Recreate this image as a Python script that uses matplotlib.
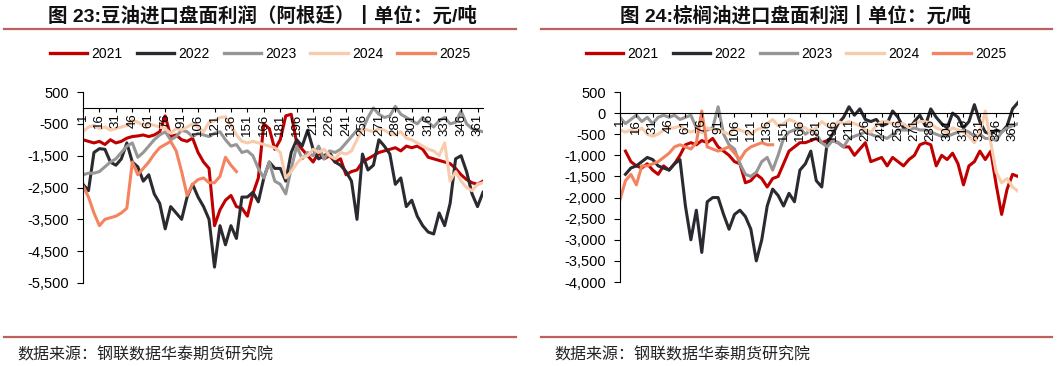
import numpy as np
import matplotlib
matplotlib.use("Agg")
import matplotlib.pyplot as plt
from matplotlib.lines import Line2D
from matplotlib.ticker import FuncFormatter

# =============== SETTINGS ===============

plt.rcParams["font.family"] = ["Liberation Sans", "Noto Sans CJK SC"]

W, H = 1057, 366
RED_RULE = "#C0605E"

YEARS = ["2021", "2022", "2023", "2024", "2025"]
COLORS = ["#C00000", "#2A2A30", "#969696", "#F8CBAD", "#F4845F"]

# day of year, every 5 days (1 ... 366)
DAYS = list(range(1, 367, 5))
X_TICKS = list(range(1, 362, 15))

# =============== DATA: soybean oil (Argentina) ===============

SOY_2021 = [-1000, -1050, -1100, -1050, -1150, -1000, -1100, -1050, -950, -900,
            -880, -850, -900, -850, -750, -250, -900, -850, -1000, -1050,
            -950, -1400, -1700, -1900, -3700, -3200, -2900, -2750, -3100, -3150,
            -3400, -2700, -2200, -500, -650, -1300, -1000, -250, -200, -1100,
            -1300, -1500, -1700, -1400, -1600, -1500, -1700, -1600, -2100, -2000,
            -1950, -1700, -1600, -1500, -1400, -1350, -1300, -1250, -1350, -1200,
            -1250, -1200, -1300, -1550, -1600, -1650, -1700, -1750, -1900, -2100,
            -2250, -2350, -2400, -2300]
SOY_2022 = [-2400, -2600, -1400, -1280, -1300, -1700, -1800, -1600, -1100, -1700,
            -1850, -2300, -2100, -2700, -3000, -3800, -3100, -3300, -3500, -2800,
            -2400, -2800, -3100, -3500, -5000, -3700, -4300, -3700, -4100, -2800,
            -2800, -2650, -2950, -2200, -1700, -1900, -1900, -2300, -1400, -1000,
            -1200, -700, -1300, -1600, -1500, -1400, -1700, -1800, -2000, -2300,
            -3500, -1450, -1950, -1800, -1000, -1200, -1450, -2400, -2200, -3100,
            -2900, -3400, -3700, -3900, -3960, -3300, -3700, -3000, -1600, -1500,
            -2000, -2700, -3100, -2650]
SOY_2023 = [-2100, -2050, -2050, -2000, -1850, -1700, -1600, -1400, -1200, -1100,
            -1550, -1400, -1200, -1000, -850, -750, -1000, -900, -700, -750,
            -900, -800, -850, -900, -800, -750, -1000, -1200, -1150, -1400,
            -1350, -1500, -1900, -2200, -1700, -2300, -2400, -2700, -1900, -1200,
            -1600, -1400, -1500, -1200, -1600, -1350, -1400, -1300, -1100, -900,
            -700, -700, -300, 0, -200, -300, -250, 50, -200, -300,
            -400, -500, -300, -450, -600, -400, -300, -500, -450, -100,
            -500, -650, -700, -750]
SOY_2024 = [-750, -600, -550, -650, -600, -700, -650, -600, -550, -380,
            -450, -550, -500, -550, -600, -650, -800, -650, -700, -600,
            -500, -600, -750, -450, -400, -300, -280, -550, -850, -1050,
            -1100, -1050, -1100, -1150, -1200, -1250, -1400, -2200, -2000, -1750,
            -1550, -1500, -1300, -1400, -1300, -1500, -1600, -1400, -1450, -1350,
            -1000, -650, -700, -750, -650, -700, -800, -850, -750, -950,
            -1000, -1100, -1200, -1300, -1350, -1500, -1100, -2300, -2000, -2300,
            -2500, -2600, -2400, -2350]
SOY_2025 = [-2450, -2800, -3300, -3700, -3500, -3450, -3400, -3300, -3150, -1700,
            -2100, -1900, -1700, -1450, -1250, -1150, -1050, -1350, -2000, -2750,
            -2400, -2250, -2200, -2350, -2350, -2150, -1550, -1800, -2000]

# =============== DATA: palm oil ===============

PALM_2021 = [np.nan, -900, -1150, -1250, -1300, -1200, -1350, -1450, -1250, -1350,
             -1200, -1000, -750, -700, -750, -650, -700, -600, -800, -900,
             -1000, -1150, -1200, -1650, -1600, -1450, -1550, -1750, -1550, -1500,
             -1200, -900, -800, -700, -700, -650, -600, -700, -650, -650,
             -700, -800, -800, -1000, -850, -700, -1150, -1100, -1050, -1250,
             -1050, -1150, -1250, -1100, -1000, -750, -700, -750, -1250, -1000,
             -1100, -950, -1200, -1700, -1250, -1150, -900, -1100, -900, -1700,
             -2400, -1800, -1450, -1500]
PALM_2022 = [np.nan, -1450, -1300, -1250, -1150, -1050, -1100, -1250, -1300, -1350,
             -1200, -1100, -2200, -3000, -2300, -3300, -2100, -2000, -2000, -2400,
             -2750, -2400, -2300, -2450, -2750, -3500, -3000, -2200, -1800, -1950,
             -2200, -1900, -2100, -1350, -1200, -900, -1600, -1750, -700, -500,
             -250, -100, 150, -50, 100, -150, -200, -150, -300, -250,
             50, -100, -350, -400, -200, -50, -300, 100, -100, -250,
             -350, 0, -100, -350, -200, 200, -200, -450, -500, -400,
             -450, -300, 100, 250]
PALM_2023 = [-100, -250, -150, -50, -200, -100, -250, -100, -50, -100,
             -50, -150, -100, -50, -350, -450, -400, -350, 150, -500,
             -750, -850, -1200, -1450, -1500, -1400, -1150, -1050, -1350, -1000,
             -600, -450, -400, -350, -500, -400, -500, -700, -800, -650,
             -700, -800, -600, -550, -500, -450, -500, -550, -550, -600,
             -500, -400, -400, -400, -350, -400, -400, -450, -500, -550,
             -550, -500, -450, -400, -450, -550, -500, -600, -600, -650,
             -450, -350, -300, -250]
PALM_2024 = [-400, -450, -400, -450, -350, -500, -550, -500, -400, -350,
             -350, -300, -400, -450, -400, -450, -350, -400, -400, -450,
             -500, -350, -400, -450, -500, -400, -350, -250, -150, -300,
             -250, -150, -200, -300, -350, -450, -350, -200, -300, -350,
             -200, -250, -200, -250, -300, -400, -450, -300, -200, -200,
             -250, -250, -250, -350, -250, -200, -200, -250, -350, -400,
             -450, -350, -400, -450, -550, -700, -450, 50, -700, -1400,
             -1650, -1550, -1750, -1850]
PALM_2025 = [-2050, -1600, -1450, -1700, -1250, -1250, -1200, -1150, -1050, -950,
             -800, -750, -800, -850, -700, 50, -800, -850, -900, -850,
             -800, -950, -1100, -900, -800, -750, -700, -750, -750]

SOY_SERIES = [SOY_2021, SOY_2022, SOY_2023, SOY_2024, SOY_2025]
PALM_SERIES = [PALM_2021, PALM_2022, PALM_2023, PALM_2024, PALM_2025]

SOY_YTICKS = list(range(-5500, 501, 1000))
PALM_YTICKS = list(range(-4000, 501, 500))

SOY_TITLE = "图 23:豆油进口盘面利润（阿根廷）丨单位：元/吨"
PALM_TITLE = "图 24:棕榈油进口盘面利润丨单位：元/吨"
SOURCE = "数据来源：钢联数据华泰期货研究院"


# =============== HELPERS ===============

def px_box(x0, y_top, x1, y_bottom):
    """Pixel box -> figure fraction [left, bottom, width, height]."""
    return [x0 / W, 1 - y_bottom / H, (x1 - x0) / W, (y_bottom - y_top) / H]


def rule(fig, x0, x1, y):
    fig.add_artist(Line2D([x0 / W, x1 / W], [1 - y / H, 1 - y / H],
                          transform=fig.transFigure, color=RED_RULE, lw=1.6))


def draw_panel(fig, box, series, yticks, title, title_x, legend_x, rule_x, src_x):
    ax = fig.add_axes(box)
    for vals, year, col in zip(series, YEARS, COLORS):
        ax.plot(DAYS[:len(vals)], vals, color=col, lw=2.2, label=year,
                solid_joinstyle="round")

    ax.set_xlim(1, 366)
    ax.set_ylim(yticks[0], yticks[-1])
    ax.set_yticks(yticks)
    ax.yaxis.set_major_formatter(FuncFormatter(lambda v, p: f"{v:,.0f}"))
    ax.set_xticks(X_TICKS)
    ax.set_xticklabels([str(d) for d in X_TICKS])
    # tick labels sit on top of the lines, as in the source chart
    ax.set_axisbelow(False)

    ax.spines["top"].set_visible(False)
    ax.spines["right"].set_visible(False)
    ax.spines["bottom"].set_position(("data", 0))
    ax.spines["bottom"].set_zorder(3)
    ax.tick_params(axis="y", direction="out", length=4, labelsize=10.5, pad=6)
    ax.tick_params(axis="x", direction="out", length=3, labelsize=9.5, pad=1,
                   labelrotation=90)

    fig.text(title_x / W, 1 - 16 / H, title, ha="center", va="center",
             fontsize=14, fontweight="bold", color="#111111")
    rule(fig, rule_x[0], rule_x[1], 28.5)

    leg = ax.legend(loc="center", bbox_to_anchor=(legend_x / W, 1 - 54 / H),
                    bbox_transform=fig.transFigure, ncol=5, frameon=False,
                    fontsize=10, handlelength=2.7, handletextpad=0.3,
                    columnspacing=1.0)
    for ln in leg.get_lines():
        ln.set_linewidth(2.4)

    rule(fig, rule_x[0], rule_x[1], 337)
    fig.text(src_x / W, 1 - 355 / H, SOURCE, ha="left", va="center",
             fontsize=11.5, color="#222222")
    return ax


# =============== MAIN ===============

fig = plt.figure(figsize=(W / 100, H / 100), dpi=100, facecolor="white")

draw_panel(fig, px_box(83, 92, 483, 283), SOY_SERIES, SOY_YTICKS,
           SOY_TITLE, 262, 260, (4, 516), 17)
draw_panel(fig, px_box(620, 92, 1018, 282), PALM_SERIES, PALM_YTICKS,
           PALM_TITLE, 795, 796, (541, 1052), 554)

fig.savefig("out.png", dpi=100, facecolor="white")
